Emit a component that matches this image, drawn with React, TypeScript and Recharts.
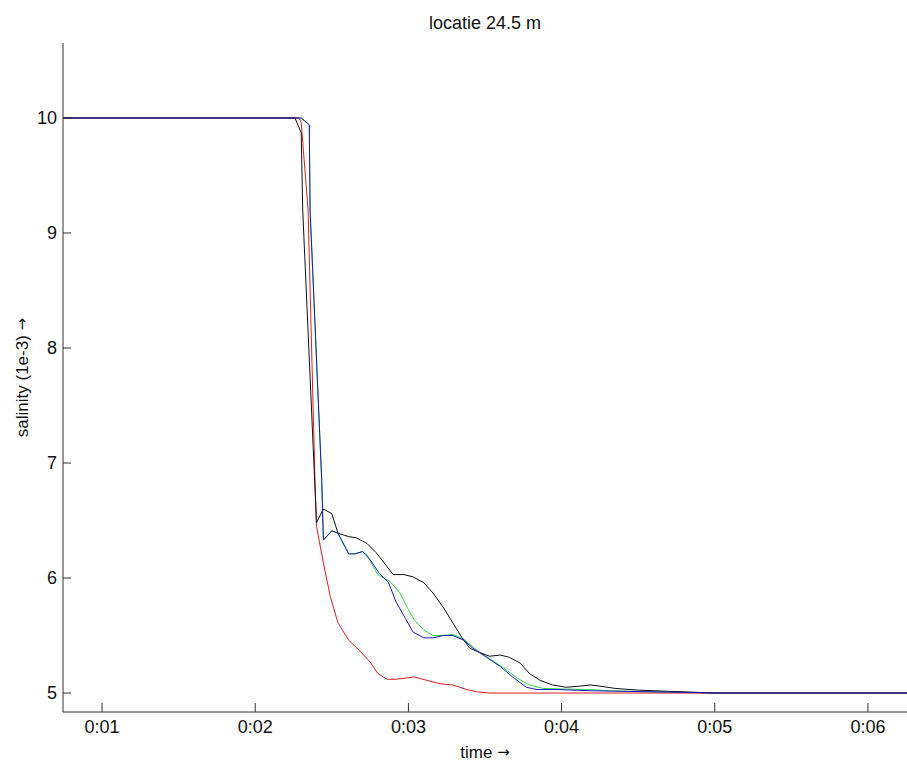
import React from 'react';
import { LineChart, Line, XAxis, YAxis } from 'recharts';

// time in minutes, salinity in 1e-3
const xTicks = [1, 2, 3, 4, 5, 6];
const yTicks = [5, 6, 7, 8, 9, 10];

const redT = [0.745, 2.285, 2.3, 2.345, 2.39, 2.4, 2.445, 2.49, 2.54, 2.61, 2.68, 2.75, 2.8, 2.86, 2.92, 3.04, 3.12, 3.21, 3.29, 3.38, 3.45, 3.53, 6.255];
const redV = [10, 10, 9.96, 9.2, 6.85, 6.45, 6.13, 5.84, 5.61, 5.46, 5.37, 5.27, 5.17, 5.12, 5.12, 5.14, 5.11, 5.08, 5.07, 5.03, 5.01, 5.0, 5.0];

const greenT = [0.745, 2.3, 2.353, 2.358, 2.434, 2.445, 2.5, 2.54, 2.61, 2.65, 2.7, 2.73, 2.8, 2.88, 2.945, 2.99, 3.04, 3.1, 3.16, 3.23, 3.29, 3.36, 3.45, 3.53, 3.62, 3.71, 3.79, 3.88, 4.01, 4.19, 4.3, 4.6, 5.0, 6.255];
const greenV = [10, 10, 9.94, 9.2, 6.85, 6.33, 6.41, 6.39, 6.21, 6.21, 6.23, 6.2, 6.03, 5.97, 5.87, 5.75, 5.63, 5.55, 5.5, 5.5, 5.51, 5.47, 5.37, 5.3, 5.22, 5.13, 5.07, 5.04, 5.035, 5.03, 5.02, 5.01, 5.0, 5.0];

const blackT = [0.745, 2.26, 2.3, 2.31, 2.4, 2.445, 2.5, 2.54, 2.61, 2.66, 2.73, 2.79, 2.86, 2.9, 2.97, 3.03, 3.1, 3.16, 3.23, 3.29, 3.35, 3.4, 3.47, 3.53, 3.6, 3.66, 3.73, 3.79, 3.86, 3.94, 4.03, 4.12, 4.19, 4.25, 4.35, 4.5, 4.7, 4.9, 5.0, 6.255];
const blackV = [10, 10, 9.87, 9.2, 6.48, 6.6, 6.56, 6.39, 6.36, 6.35, 6.3, 6.22, 6.1, 6.03, 6.03, 6.01, 5.96, 5.87, 5.74, 5.61, 5.48, 5.39, 5.35, 5.32, 5.33, 5.31, 5.26, 5.17, 5.11, 5.07, 5.05, 5.06, 5.07, 5.06, 5.04, 5.025, 5.015, 5.005, 5.0, 5.0];

const blueT = [0.745, 2.3, 2.353, 2.358, 2.434, 2.445, 2.5, 2.54, 2.61, 2.65, 2.7, 2.75, 2.81, 2.87, 2.92, 2.98, 3.03, 3.1, 3.16, 3.23, 3.29, 3.36, 3.42, 3.51, 3.6, 3.68, 3.77, 3.84, 3.97, 4.19, 4.4, 4.7, 5.0, 6.255];
const blueV = [10, 10, 9.94, 9.2, 6.85, 6.33, 6.41, 6.39, 6.21, 6.21, 6.23, 6.16, 6.04, 5.96, 5.79, 5.65, 5.53, 5.48, 5.48, 5.5, 5.5, 5.46, 5.39, 5.31, 5.23, 5.14, 5.05, 5.03, 5.03, 5.02, 5.015, 5.008, 5.0, 5.0];

const zip = (t: number[], v: number[]) => t.map((x, i) => ({ t: x, v: v[i] }));

const series = [
  { name: 'green', color: '#2fd84a', data: zip(greenT, greenV) },
  { name: 'red', color: '#d81e1e', data: zip(redT, redV) },
  { name: 'black', color: '#101018', data: zip(blackT, blackV) },
  { name: 'blue', color: '#1a1ac0', data: zip(blueT, blueV) },
];

const fmtTime = (m: number) => `0:${String(m).padStart(2, '0')}`;

const font = '"Liberation Sans", Arial, sans-serif';
const arrowFont = '"DejaVu Sans", sans-serif';
const axisColor = '#333';

// axis label with a proper-size arrow glyph
const ArrowLabel = ({ viewBox, text, vertical }: any) => {
  const { x, y, width, height } = viewBox;
  const cx = vertical ? 22 : x + width / 2;
  const cy = vertical ? y + height / 2 : y + height - 13;
  return (
    <text
      x={cx}
      y={cy}
      textAnchor="middle"
      fill="#111"
      fontSize={17}
      fontFamily={font}
      transform={vertical ? `rotate(-90 ${cx} ${cy})` : undefined}
      dominantBaseline="central"
    >
      {text}
      <tspan fontFamily={arrowFont} fontSize={15}>{' \u2192'}</tspan>
    </text>
  );
};

export default function App() {
  return (
    <div
      style={{
        position: 'absolute',
        left: 0,
        top: 0,
        width: 907,
        height: 765,
        background: '#fff',
        fontFamily: font,
        overflow: 'hidden',
      }}
    >
      <div
        style={{
          position: 'absolute',
          top: 13,
          left: 0,
          width: 970,
          textAlign: 'center',
          fontSize: 18,
          color: '#111',
        }}
      >
        locatie 24.5 m
      </div>
      <LineChart width={907} height={765} margin={{ top: 43, right: 0, bottom: 0, left: 0 }}>
        <XAxis
          type="number"
          dataKey="t"
          domain={[0.745, 6.255]}
          ticks={xTicks}
          tickFormatter={fmtTime}
          allowDataOverflow
          height={53}
          tickSize={-9}
          tickMargin={17}
          stroke={axisColor}
          tick={{ fill: '#111', fontSize: 18, fontFamily: font }}
          label={<ArrowLabel text="time" />}
        />
        <YAxis
          type="number"
          domain={[4.835, 10.652]}
          ticks={yTicks}
          allowDataOverflow
          width={63}
          tickSize={-8}
          tickMargin={14}
          stroke={axisColor}
          tick={{ fill: '#111', fontSize: 18, fontFamily: font }}
          label={<ArrowLabel text="salinity (1e-3)" vertical />}
        />
        {series.map((s) => (
          <Line
            key={s.name}
            data={s.data}
            dataKey="v"
            type="linear"
            stroke={s.color}
            strokeWidth={1}
            dot={false}
            isAnimationActive={false}
          />
        ))}
      </LineChart>
    </div>
  );
}
